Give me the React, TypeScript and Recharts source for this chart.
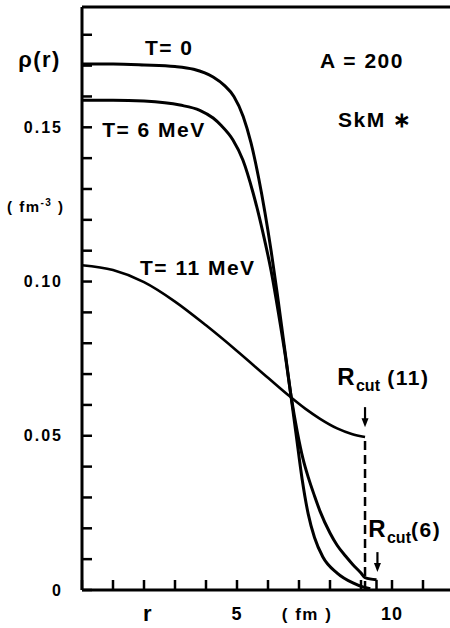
import React from 'react';
import { LineChart, Line, XAxis, YAxis, ReferenceLine, ReferenceDot } from 'recharts';

// radius r (fm) and density rho (fm^-3)
const rT0 = [0, 1, 2, 3, 3.6, 4.23, 4.6, 4.9, 5.2, 5.45, 5.7, 5.9, 6.1, 6.3, 6.5, 6.7, 6.9, 7.1, 7.3, 7.5, 7.77, 8.23, 8.74, 9.06, 9.3];
const rhoT0 = [0.1705, 0.1705, 0.1702, 0.1697, 0.1688, 0.1663, 0.1635, 0.160, 0.1535, 0.145, 0.1335, 0.1225, 0.110, 0.096, 0.081, 0.066, 0.051, 0.036, 0.0245, 0.017, 0.0107, 0.0055, 0.0023, 0.001, 0.0004];

const rT6 = [0, 1, 2, 3.16, 3.8, 4.23, 4.5, 4.87, 5.19, 5.52, 5.84, 6.1, 6.35, 6.55, 6.75, 6.95, 7.13, 7.3, 7.5, 7.68, 8.0, 8.23, 8.5, 8.74, 9.0, 9.13, 9.5];
const rhoT6 = [0.1588, 0.1588, 0.1585, 0.1572, 0.1555, 0.153, 0.1505, 0.1459, 0.1394, 0.1287, 0.1157, 0.1035, 0.089, 0.0765, 0.0625, 0.051, 0.0425, 0.0365, 0.0305, 0.0255, 0.0185, 0.0145, 0.011, 0.0082, 0.0055, 0.004, 0.0033];

const rT11 = [0, 1, 2, 3, 4, 5, 6, 6.71, 7.2, 7.68, 8.23, 8.7, 9.13];
const rhoT11 = [0.1053, 0.1037, 0.0998, 0.0935, 0.0858, 0.0775, 0.0688, 0.0627, 0.0588, 0.0555, 0.0524, 0.0506, 0.0496];

const xTicks = [0, 1, 2, 3, 4, 5, 6, 7, 8, 9, 10, 11];
const xLabelValues = [5, 10];
const xLabelTexts = ['5', '10'];
const yTicks = [0, 0.01, 0.02, 0.03, 0.04, 0.05, 0.06, 0.07, 0.08, 0.09, 0.1, 0.11, 0.12, 0.13, 0.14, 0.15, 0.16, 0.17, 0.18];
const yLabelValues = [0, 0.05, 0.1, 0.15];
const yLabelTexts = ['0', '0.05', '0.10', '0.15'];
const xDomain = [0, 12];
const yDomain = [0, 0.189];

const rCut11 = rT11[rT11.length - 1];
const rhoCut11 = rhoT11[rhoT11.length - 1];
const rCut6 = rT6[rT6.length - 1];
const rhoCut6 = rhoT6[rhoT6.length - 1];

const toPoints = (r: number[], rho: number[]) => r.map((x, i) => ({ r: x, rho: rho[i] }));
const dataT0 = toPoints(rT0, rhoT0);
const dataT6 = toPoints(rT6, rhoT6);
const dataT11 = toPoints(rT11, rhoT11);

const FONT = "'Liberation Sans', Arial, sans-serif";
const INK = '#000';

const findLabel = (v: number, vals: number[], texts: string[]) => {
  const i = vals.findIndex((t) => Math.abs(t - v) < 1e-9);
  return i >= 0 ? texts[i] : '';
};

const textShape = (content: React.ReactNode, size: number, anchor: string = 'start', spacing = 1.5) => (p: any) => (
  <text x={p.cx} y={p.cy} textAnchor={anchor} fontSize={size} fontFamily={FONT} fontWeight="bold" fill={INK} letterSpacing={spacing}>
    {content}
  </text>
);

const arrowShape = (p: any) => (
  <g>
    <line x1={p.cx} y1={p.cy - 20} x2={p.cx} y2={p.cy - 6} stroke={INK} strokeWidth={2.2} />
    <path d={`M${p.cx - 3.5},${p.cy - 9} L${p.cx + 3.5},${p.cy - 9} L${p.cx},${p.cy} Z`} fill={INK} />
  </g>
);

const rcut = (arg: string, gap: string) => (
  <>
    <tspan fontSize={24}>R</tspan>
    <tspan fontSize={16} dy={6} letterSpacing={0}>cut</tspan>
    <tspan dy={-6}>{gap + arg}</tspan>
  </>
);

const notes = [
  { x: 2.03, y: 0.1734, content: 'T= 0', size: 21, anchor: 'start' },
  { x: 0.65, y: 0.1468, content: 'T= 6 MeV', size: 21, anchor: 'start' },
  { x: 1.87, y: 0.1021, content: 'T= 11 MeV', size: 21, anchor: 'start' },
  { x: 7.68, y: 0.1692, content: 'A = 200', size: 21, anchor: 'start' },
  { x: 8.26, y: 0.1501, content: 'SkM ∗', size: 21, anchor: 'start' },
  { x: 8.23, y: 0.0665, content: rcut('(11)', ' '), size: 21, anchor: 'start' },
  { x: 9.23, y: 0.0172, content: rcut('(6)', ''), size: 21, anchor: 'start' },
  { x: -2.06, y: 0.1695, content: 'ρ(r)', size: 22, anchor: 'start' },
  {
    x: -2.42,
    y: 0.1225,
    content: (
      <>
        <tspan>( fm</tspan>
        <tspan fontSize={10} dy={-6}>-3</tspan>
        <tspan dy={6}> )</tspan>
      </>
    ),
    size: 15,
    anchor: 'start',
  },
  { x: 2.13, y: -0.0099, content: 'r', size: 22, anchor: 'middle' },
  { x: 7.26, y: -0.0097, content: '( fm )', size: 17, anchor: 'middle' },
];

export default function App() {
  return (
    <div style={{ position: 'absolute', left: 0, top: 0, width: 450, height: 628, overflow: 'hidden', background: '#fff' }}>
      <LineChart width={470} height={628} margin={{ top: 7, right: 6, left: 22, bottom: 8 }}>
        <XAxis
          type="number"
          dataKey="r"
          domain={xDomain}
          ticks={xTicks}
          interval={0}
          height={30}
          tickSize={-10}
          tickMargin={40}
          axisLine={{ stroke: INK, strokeWidth: 3 }}
          tickLine={{ stroke: INK, strokeWidth: 2.5 }}
          tick={(p: any) => {
            const lab = findLabel(p.payload.value, xLabelValues, xLabelTexts);
            return (
              <text x={p.x} y={p.y} textAnchor="middle" fontSize={18} fontFamily={FONT} fontWeight="bold" fill={INK} letterSpacing={1}>
                {lab}
              </text>
            );
          }}
        />
        <YAxis
          type="number"
          domain={yDomain}
          ticks={yTicks}
          interval={0}
          width={60}
          tickSize={-10}
          tickMargin={29}
          axisLine={{ stroke: INK, strokeWidth: 3 }}
          tickLine={{ stroke: INK, strokeWidth: 2.5 }}
          tick={(p: any) => {
            const lab = findLabel(p.payload.value, yLabelValues, yLabelTexts);
            return (
              <text x={p.x} y={p.y} dy="0.35em" textAnchor="end" fontSize={16} fontFamily={FONT} fontWeight="bold" fill={INK} letterSpacing={2}>
                {lab}
              </text>
            );
          }}
        />
        <YAxis
          yAxisId="right"
          orientation="right"
          type="number"
          domain={yDomain}
          ticks={yTicks}
          interval={0}
          width={10}
          tickSize={-10}
          tick={false}
          axisLine={{ stroke: INK, strokeWidth: 3 }}
          tickLine={{ stroke: INK, strokeWidth: 2.5 }}
        />
        <ReferenceLine y={yDomain[1]} stroke={INK} strokeWidth={3} />
        <Line data={dataT0} dataKey="rho" type="monotone" stroke={INK} strokeWidth={3} dot={false} isAnimationActive={false} />
        <Line data={dataT6} dataKey="rho" type="monotone" stroke={INK} strokeWidth={3} dot={false} isAnimationActive={false} />
        <Line data={dataT11} dataKey="rho" type="monotone" stroke={INK} strokeWidth={2.6} dot={false} isAnimationActive={false} />
        <ReferenceLine
          segment={[{ x: rCut11, y: 0 }, { x: rCut11, y: rhoCut11 }]}
          stroke={INK}
          strokeWidth={2.5}
          strokeDasharray="9 5"
        />
        <ReferenceLine segment={[{ x: rCut6, y: 0 }, { x: rCut6, y: rhoCut6 }]} stroke={INK} strokeWidth={2.5} />
        <ReferenceDot x={rCut11} y={0.0528} r={0} ifOverflow="visible" shape={arrowShape} />
        <ReferenceDot x={rCut6 + 0.03} y={0.0058} r={0} ifOverflow="visible" shape={arrowShape} />
        {notes.map((n, i) => (
          <ReferenceDot key={i} x={n.x} y={n.y} r={0} ifOverflow="visible" shape={textShape(n.content, n.size, n.anchor)} />
        ))}
      </LineChart>
    </div>
  );
}
